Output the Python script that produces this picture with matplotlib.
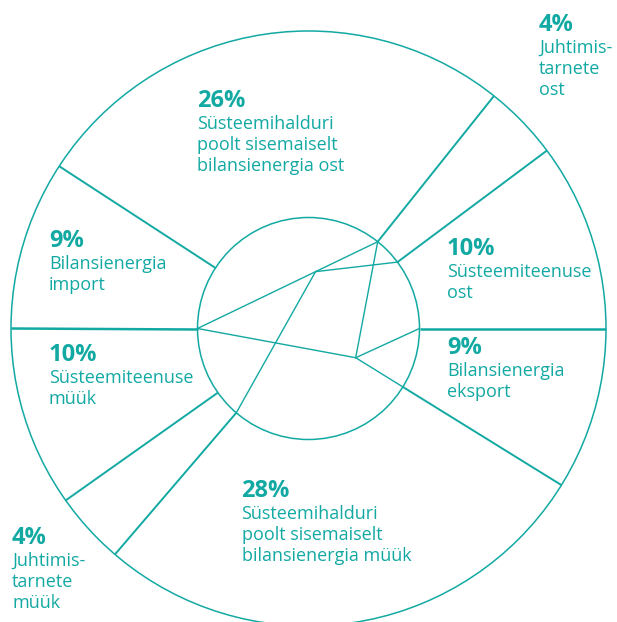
import numpy as np
import matplotlib.pyplot as plt
from matplotlib.patches import Circle

# upper half (purchases), listed counter-clockwise from 0 deg
buy_pct = [10, 4, 26, 9]
buy_txt = ['Süsteemiteenuse\nost', 'Juhtimis-\ntarnete\nost',
           'Süsteemihalduri\npoolt sisemaiselt\nbilansienergia ost',
           'Bilansienergia\nimport']
# lower half (sales), listed counter-clockwise from 180 deg
sell_pct = [10, 4, 28, 9]
sell_txt = ['Süsteemiteenuse\nmüük', 'Juhtimis-\ntarnete\nmüük',
            'Süsteemihalduri\npoolt sisemaiselt\nbilansienergia müük',
            'Bilansienergia\neksport']

# label anchor (left x, baseline of the % line) in pixels
buy_pos = [(447, 255), (539, 30.7), (197, 106.7), (49, 246.7)]
sell_pos = [(49, 360.7), (12, 544), (241.5, 497.3), (447, 354.3)]

teal = '#13A9A3'
cx, cy = 308.5, 328.5     # centre [px]
R_out = 297.5
R_in = 111.

plt.rcParams['font.family'] = ['Open Sans', 'DejaVu Sans']

fig = plt.figure(figsize=(6.17, 6.22), dpi=100)
ax = fig.add_axes([0, 0, 1, 1])
ax.set_xlim(0, 617)
ax.set_ylim(622, 0)
ax.axis('off')

ax.add_patch(Circle((cx, cy), R_out, fill=False, ec=teal, lw=1.1))
ax.add_patch(Circle((cx, cy), R_in, fill=False, ec=teal, lw=1.1))

# boundary angles: each half is scaled to 180 deg
a_buy = np.cumsum(buy_pct)/np.sum(buy_pct)*180.
a_sell = 180. + np.cumsum(sell_pct)/np.sum(sell_pct)*180.
angles = np.concatenate(([0.], a_buy[:-1], [180.], a_sell[:-1]))


def pt(ang, r):
    t = np.deg2rad(ang)
    return cx + r*np.cos(t), cy - r*np.sin(t)


# spokes between inner and outer circle
for a in angles:
    lw = 1.8 if a in (0., 180.) else 1.4
    p0, p1 = pt(a, R_in), pt(a, R_out)
    ax.plot([p0[0], p1[0]], [p0[1], p1[1]], color=teal, lw=lw,
            solid_capstyle='butt')

# inner network
A = np.array(pt(180., R_in))
C = np.array(pt(a_buy[1], R_in))
D = np.array(pt(a_buy[0], R_in))
F = np.array(pt(0., R_in))
G = np.array(pt(a_sell[1], R_in))
J = np.array(pt(a_sell[2], R_in))
B = A + 0.655*(C - A)
E = np.array(pt(a_sell[2], 0.5*R_in))

for p, q in [(A, C), (B, D), (B, G), (C, E), (A, E), (E, F), (E, J)]:
    ax.plot([p[0], q[0]], [p[1], q[1]], color=teal, lw=1.0)

for pcts, txts, poss in [(buy_pct, buy_txt, buy_pos),
                         (sell_pct, sell_txt, sell_pos)]:
    for v, s, (x, y) in zip(pcts, txts, poss):
        ax.text(x, y, f'{v}%', color=teal, fontsize=17,
                fontweight='bold', va='baseline', ha='left')
        for i, line in enumerate(s.split('\n')):
            ax.text(x, y + 22 + 21*i, line, color=teal, fontsize=13,
                    va='baseline', ha='left')

fig.savefig('out.png', dpi=100)
